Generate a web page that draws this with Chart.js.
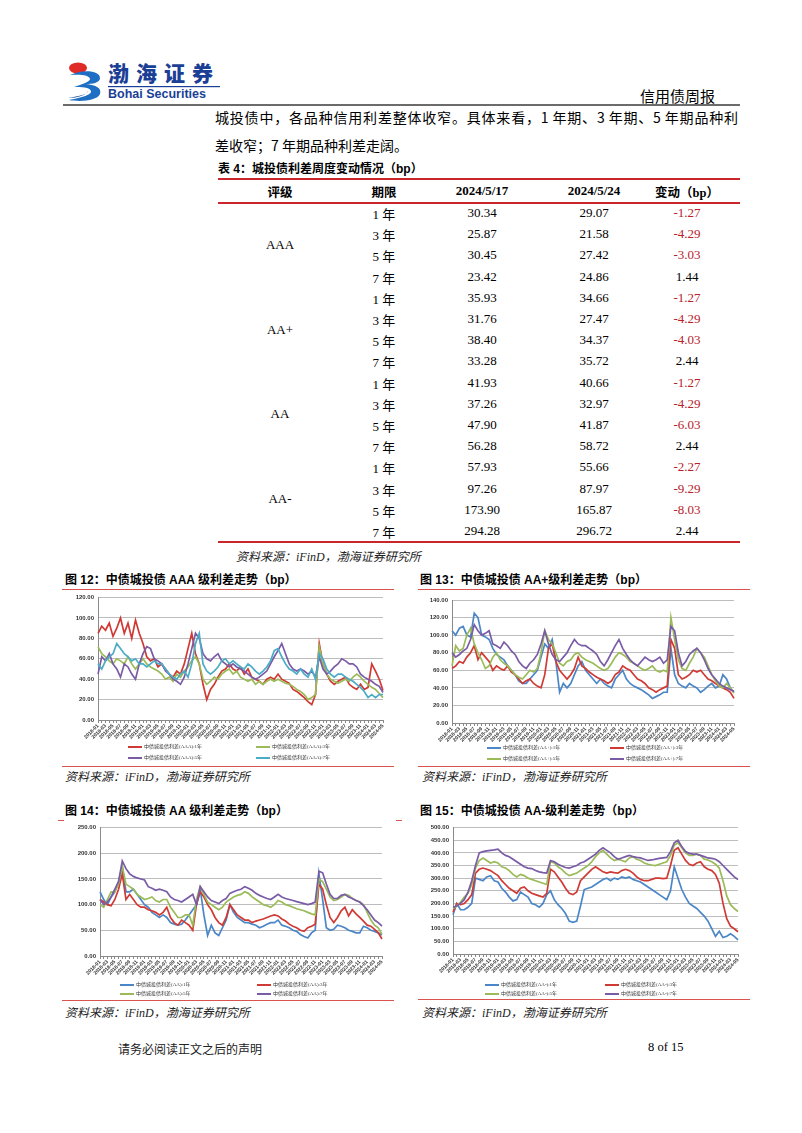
<!DOCTYPE html>
<html>
<head>
<meta charset="utf-8">
<script src="https://cdn.jsdelivr.net/npm/chart.js@4.4.1/dist/chart.umd.min.js"></script>
<style>
  body { margin: 0; width: 802px; height: 1133px; position: relative; background: #fff; overflow: hidden;
         font-family: "Noto Sans CJK SC", sans-serif; color: #000; }
  .abs { position: absolute; white-space: nowrap; }
  .serif { font-family: "Liberation Serif", "Noto Sans CJK SC", serif; }
  .ttl { font-family: "Liberation Sans", "Noto Sans CJK SC", sans-serif; font-weight: bold; font-size: 12px; }
  .src { font-family: "Liberation Serif", "Noto Sans CJK SC", serif; font-style: italic; font-size: 12px; color: #222; }
  .redline { position: absolute; height: 1px; background: #D9534F; }
  canvas { position: absolute; background: #fff; }
  .lg { position: absolute; white-space: nowrap; font-family: "Liberation Serif", "Noto Sans CJK SC", serif; font-size: 5px; color: #333; line-height: 6px; }
  .lg i { display: inline-block; width: 14px; height: 2px; vertical-align: middle; margin-right: 2px; }
  .cell { position: absolute; transform: translate(-50%, -50%); white-space: nowrap; font-size: 13px; }
</style>
</head>
<body>

<!-- 页眉 -->
<svg class="abs" style="left:66px;top:58px" width="160" height="46">
  <ellipse cx="12" cy="10" rx="9" ry="5.5" fill="#E02A26"/>
  <path d="M4 17 C16 11 34 12 34 20 C34 25 26 26 20 26 C30 27 36 30 34 36 C31 43 14 44 3 42 C14 40 26 37 25 33 C24 29 15 29 8 29 C16 26 24 24 24 21 C24 17 14 16 4 17 Z" fill="#1E6FC3"/>
  <path d="M2 40 C14 38 22 36 22 33 C20 37 12 40 2 40 Z" fill="#0B3F8F"/>
  <text x="42" y="23" font-family="Noto Sans CJK SC" font-weight="900" font-size="21" fill="#1B3F96" letter-spacing="7">渤海证券</text>
  <rect x="42" y="28" width="112" height="1.2" fill="#1B3F96"/>
  <text x="42" y="40" font-family="Liberation Sans" font-weight="bold" font-size="12.5" fill="#1B3F96">Bohai Securities</text>
</svg>
<div class="abs" style="left:640px;top:85px;font-size:15px;">信用债周报</div>
<div class="abs" style="left:63px;top:104px;width:677px;height:2px;background:#6b6b6b;"></div>

<div class="abs" style="left:215px;top:107px;width:523px;font-size:14px;line-height:20px;text-align:justify;text-align-last:justify;">城投债中，各品种信用利差整体收窄。具体来看，1 年期、3 年期、5 年期品种利</div>
<div class="abs" style="left:215px;top:135px;font-size:14px;line-height:20px;">差收窄；7 年期品种利差走阔。</div>
<div class="abs ttl" style="left:218px;top:159px;">表 4：城投债利差周度变动情况（bp）</div>

<div id="table"></div>
<div class="abs src" style="left:236px;top:547px;">资料来源：iFinD，渤海证券研究所</div>

<!-- 图表区 -->
<div class="abs ttl" style="left:65px;top:570px;">图 12：中债城投债 AAA 级利差走势（bp）</div>
<div class="abs ttl" style="left:420px;top:570px;">图 13：中债城投债 AA+级利差走势（bp）</div>
<div class="redline" style="left:62px;top:589px;width:332px;"></div>
<div class="redline" style="left:418px;top:589px;width:332px;"></div>
<canvas id="c12" width="332" height="160" style="left:62px;top:590px;"></canvas>
<canvas id="c13" width="332" height="160" style="left:418px;top:590px;"></canvas>
<div class="redline" style="left:62px;top:766px;width:332px;"></div>
<div class="redline" style="left:418px;top:766px;width:332px;"></div>
<div class="abs src" style="left:65px;top:767px;">资料来源：iFinD，渤海证券研究所</div>
<div class="abs src" style="left:422px;top:767px;">资料来源：iFinD，渤海证券研究所</div>

<div class="abs ttl" style="left:65px;top:801px;">图 14：中债城投债 AA 级利差走势（bp）</div>
<div class="abs ttl" style="left:420px;top:801px;">图 15：中债城投债 AA-级利差走势（bp）</div>
<div class="redline" style="left:58px;top:820px;width:344px;"></div>
<canvas id="c14" width="332" height="162" style="left:64px;top:820px;"></canvas>
<canvas id="c15" width="332" height="162" style="left:418px;top:820px;"></canvas>
<div class="redline" style="left:62px;top:1000px;width:332px;"></div>
<div class="redline" style="left:418px;top:999px;width:332px;"></div>
<div class="abs src" style="left:65px;top:1003px;">资料来源：iFinD，渤海证券研究所</div>
<div class="abs src" style="left:422px;top:1003px;">资料来源：iFinD，渤海证券研究所</div>

<div id="legends"></div>

<!-- 页脚 -->
<div class="abs src" style="left:118px;top:1040px;font-style:normal;">请务必阅读正文之后的声明</div>
<div class="abs serif" style="left:648px;top:1040px;font-size:12.5px;">8 of 15</div>

<script>
// 表格数据
const tblRatings = ["AAA", "AA+", "AA", "AA-"];
const tblTerms = ["1 年", "3 年", "5 年", "7 年"];
const tblPrev = ["30.34", "25.87", "30.45", "23.42", "35.93", "31.76", "38.40", "33.28",
                 "41.93", "37.26", "47.90", "56.28", "57.93", "97.26", "173.90", "294.28"];
const tblCurr = ["29.07", "21.58", "27.42", "24.86", "34.66", "27.47", "34.37", "35.72",
                 "40.66", "32.97", "41.87", "58.72", "55.66", "87.97", "165.87", "296.72"];
const tblChg = ["-1.27", "-4.29", "-3.03", "1.44", "-1.27", "-4.29", "-4.03", "2.44",
                "-1.27", "-4.29", "-6.03", "2.44", "-2.27", "-9.29", "-8.03", "2.44"];

// 月度横轴 2018-01 至 2024-05
const months = [];
for (let y = 2018; y <= 2024; y++) {
  for (let m = 1; m <= 12; m++) {
    if (y === 2024 && m > 5) break;
    months.push(y + "-" + String(m).padStart(2, "0"));
  }
}

// AAA
const aaa1 = [85,92,88,95,82,90,100,85,95,80,98,85, 75,62,58,60,52,55,50,45,42,48,45,55,
  70,85,65,55,35,20,30,35,42,48,50,55, 50,48,52,45,50,42,40,38,35,40,42,40,
  45,40,38,36,30,28,25,22,18,15,25,75, 55,45,38,35,38,40,42,35,32,30,35,30, 32,55,48,40,29];
const aaa3 = [72,65,62,58,55,60,58,55,62,55,50,55, 60,55,52,50,48,45,40,42,38,45,42,48,
  52,58,62,55,40,35,38,42,40,45,48,50, 45,48,42,40,38,40,35,38,35,38,40,38,
  40,38,36,35,33,30,28,25,20,22,25,72, 55,45,40,38,36,38,40,38,42,45,42,38, 35,32,30,26,22];
const aaa5 = [45,62,58,65,55,50,42,55,52,45,40,55, 65,72,70,60,58,55,48,45,40,38,35,42,
  55,70,85,80,65,60,58,62,65,58,55,52, 55,52,50,48,45,42,40,42,45,48,55,62,
  68,75,65,55,50,48,50,48,45,48,42,62, 50,45,48,52,55,60,58,55,55,52,45,42, 40,38,35,33,27];
const aaa7 = [55,50,58,62,65,75,70,65,62,58,60,55, 55,52,55,58,55,55,50,45,42,40,45,48,
  42,55,75,85,55,48,45,48,52,58,60,55, 58,55,52,50,55,52,48,45,48,52,58,68,
  70,62,55,50,48,45,50,45,42,50,40,65, 60,50,45,42,45,45,42,40,38,35,32,28, 22,25,22,25,25];

// AA+
const aap1 = [105,100,108,110,100,98,125,120,100,98,95,85, 78,75,72,65,60,55,48,45,45,50,55,60,
  75,90,85,95,70,35,45,40,45,55,65,70, 60,55,50,45,50,45,42,40,50,55,60,50,
  45,42,40,38,35,32,28,30,32,35,35,85, 55,45,42,40,45,42,40,35,38,42,45,40, 42,55,50,40,35];
const aap3 = [62,65,70,68,75,80,88,72,80,75,70,60, 65,62,60,65,58,55,50,45,48,50,45,42,
  40,55,85,90,70,60,55,50,55,62,75,65, 62,58,55,52,50,48,45,48,55,58,65,62,
  60,55,50,48,45,40,38,35,38,40,42,95, 85,55,50,52,55,60,58,60,55,50,48,45, 42,40,38,35,28];
const aap5 = [65,88,82,85,100,108,90,80,72,62,65,75, 80,72,68,65,60,55,52,50,55,60,58,62,
  80,105,95,90,80,68,65,70,72,78,80,75, 72,70,68,65,62,60,62,68,75,80,78,75,
  70,68,65,62,60,62,65,60,58,60,58,120, 95,72,62,60,68,75,85,80,75,65,55,48, 42,40,45,40,34];
const aap7 = [80,75,78,82,85,95,112,105,100,102,105,90, 88,85,92,88,82,78,70,65,62,68,72,78,
  90,105,90,78,72,70,75,80,88,95,90,88, 88,85,82,78,70,65,72,80,88,95,85,78,
  72,68,65,70,75,72,70,72,75,68,72,110, 105,80,65,70,78,82,85,80,72,62,55,50, 45,42,40,38,36];

// AA
const aa1 = [125,110,100,115,125,145,175,125,125,130,120,110, 100,95,85,80,75,80,75,65,62,60,62,70,
  80,90,100,130,80,40,60,45,40,55,70,100, 85,75,70,65,65,62,60,55,58,62,65,65,
  70,60,58,55,50,48,42,38,35,45,50,160, 110,55,50,52,60,58,55,50,48,45,45,58, 55,50,48,45,41];
const aa3 = [110,105,100,98,110,130,160,110,120,110,100,95, 95,90,88,85,80,85,95,75,65,60,70,65,
  60,50,100,125,115,100,90,75,65,60,75,100, 90,80,75,70,70,65,68,70,72,75,78,80,
  78,72,68,62,58,55,50,48,55,58,62,140, 130,100,75,65,75,88,95,78,90,82,75,68, 60,58,52,45,33];
const aa5 = [100,95,110,125,125,140,175,140,135,130,120,115, 110,112,115,108,105,110,110,95,85,75,75,80,
  80,60,110,135,120,105,100,95,90,95,105,110, 115,118,120,125,122,115,110,105,100,98,95,100,
  108,105,100,98,95,92,90,88,85,82,80,150, 145,130,115,108,110,115,120,118,112,108,105,100, 85,70,60,55,42];
const aa7 = [110,100,105,115,130,145,185,170,160,155,152,150, 148,135,132,128,130,128,125,115,110,108,105,110,
  115,120,100,135,125,115,108,105,102,108,112,122, 125,128,130,135,132,128,122,118,115,112,110,115,
  120,115,112,110,108,106,104,102,100,102,105,165, 162,140,120,112,112,118,120,115,112,108,105,98, 90,80,70,65,58];

// AA-
const aam1 = [155,200,175,175,185,200,300,295,290,305,310,290, 285,260,245,225,210,215,245,235,225,200,195,185,
  200,235,250,215,195,180,160,130,125,130,190,255, 260,265,275,285,295,300,290,300,295,305,300,305,
  295,290,285,275,265,255,245,235,225,215,250,345, 300,255,225,200,190,180,165,150,130,100,70,90, 65,70,80,70,56];
const aam3 = [165,200,195,200,215,235,320,335,340,335,330,320, 310,290,275,260,250,240,260,265,250,240,235,230,
  225,240,335,325,305,285,260,240,235,245,290,305, 320,335,345,335,325,320,325,322,320,330,335,330,
  320,305,295,290,290,295,300,300,298,300,350,410, 420,395,370,355,350,360,365,345,335,330,315,280, 200,140,110,100,88];
const aam5 = [180,190,205,225,240,275,340,370,380,370,360,365, 360,345,340,330,315,305,315,310,300,295,290,285,
  280,275,365,360,345,335,320,310,315,320,330,340, 350,365,385,400,410,395,380,370,375,370,365,380,
  385,375,370,360,355,352,350,355,360,365,390,430, 440,420,400,390,390,395,390,375,372,365,355,340, 290,230,195,180,168];
const aam7 = [185,190,200,215,245,290,350,400,405,408,410,412, 415,400,390,385,375,365,355,345,340,338,330,325,
  322,320,370,365,355,348,342,340,345,350,360,365, 375,385,395,410,420,410,400,385,375,380,385,390,
  385,382,380,375,370,372,375,378,380,382,405,440, 450,425,405,398,395,395,390,385,380,378,375,365, 350,335,320,305,295];

const colBlue = "#4A86C8", colRed = "#D03A34", colGreen = "#9BBB59", colPurple = "#7A5BA6", colCyan = "#4BACC6";

// 表格
const tbl = document.getElementById("table");
const colX = { rating: 280, term: 384, prev: 482, curr: 594, chg: 687 };
const rowY0 = 213, rowH = 21.2;
const addCell = (x, y, text, cls, style) => {
  const d = document.createElement("div");
  d.className = "cell " + (cls || "");
  d.style.left = x + "px";
  d.style.top = y + "px";
  if (style) d.style.cssText += style;
  d.textContent = text;
  tbl.appendChild(d);
};
const addLine = (y, h) => {
  const d = document.createElement("div");
  d.className = "abs";
  d.style.cssText = `left:218px;top:${y}px;width:522px;height:${h}px;background:#C9252B;`;
  tbl.appendChild(d);
};
addLine(178, 2);
addLine(202, 1.5);
addLine(541, 2);
const hb = "font-weight:bold;font-size:12.5px;";
addCell(colX.rating, 191, "评级", "", hb);
addCell(colX.term, 191, "期限", "", hb);
addCell(colX.prev, 191, "2024/5/17", "serif", hb + "font-size:13px;");
addCell(colX.curr, 191, "2024/5/24", "serif", hb + "font-size:13px;");
addCell(colX.chg, 191, "变动（bp）", "serif", hb);
tblPrev.forEach((v, i) => {
  const y = rowY0 + i * rowH;
  addCell(colX.term, y, tblTerms[i % 4], "serif");
  addCell(colX.prev, y, v, "serif");
  addCell(colX.curr, y, tblCurr[i], "serif");
  addCell(colX.chg, y, tblChg[i], "serif", tblChg[i].startsWith("-") ? "color:#B8212A;" : "");
});
tblRatings.forEach((r, k) => {
  addCell(colX.rating, rowY0 + (k * 4 + 1.5) * rowH, r, "serif");
});

// 图例
const legends = document.getElementById("legends");
const addLegend = (x, y, color, text) => {
  const d = document.createElement("div");
  d.className = "lg";
  d.style.left = x + "px";
  d.style.top = y + "px";
  d.innerHTML = `<i style="background:${color}"></i>${text}`;
  legends.appendChild(d);
};

const makeChart = (id, tag, series, colors, yMax, yStep, box, lg) => {
  const names = ["1年", "3年", "5年", "7年"].map(t => `中债城投债利差(${tag}):${t}`);
  new Chart(document.getElementById(id).getContext("2d"), {
    type: "line",
    data: {
      labels: months,
      datasets: series.map((d, i) => ({
        label: names[i], data: d, borderColor: colors[i], borderWidth: 1.7,
        pointRadius: 0, tension: 0, fill: false, order: 4 - i
      }))
    },
    options: {
      responsive: false, animation: false, devicePixelRatio: 1,
      layout: { padding: { top: box.padT, right: box.padR, left: 0, bottom: 0 } },
      plugins: { legend: { display: false }, tooltip: { enabled: false } },
      scales: {
        x: {
          grid: { display: true, drawOnChartArea: false, tickLength: 3, color: "#8a8a8a" },
          border: { color: "#8a8a8a" },
          ticks: {
            autoSkip: false, maxRotation: 45, minRotation: 45, padding: 0,
            font: { size: 5, family: "Liberation Sans", weight: "bold" }, color: "#333",
            callback: (v, i) => (i % 2 === 0 ? months[i] : "")
          },
          afterFit: s => { s.height = box.xH; }
        },
        y: {
          min: 0, max: yMax,
          grid: { color: "#BDBDBD", drawTicks: false },
          border: { color: "#8a8a8a" },
          ticks: {
            stepSize: yStep, padding: 4,
            font: { size: 6, family: "Liberation Sans", weight: "bold" }, color: "#333",
            callback: v => v.toFixed(2)
          },
          afterFit: s => { s.width = box.yW; }
        }
      }
    }
  });
  series.forEach((d, i) => {
    const col = i % 2, row = Math.floor(i / 2);
    addLegend(lg.x[col], lg.y[row], colors[i], names[i]);
  });
};

makeChart("c12", "AAA", [aaa1, aaa3, aaa5, aaa7], [colRed, colGreen, colPurple, colCyan], 120, 20,
  { yW: 36, xH: 30, padT: 7, padR: 11 }, { x: [128, 256], y: [744, 755] });
makeChart("c13", "AA+", [aap1, aap3, aap5, aap7], [colBlue, colRed, colGreen, colPurple], 140, 20,
  { yW: 34, xH: 27, padT: 10, padR: 16 }, { x: [487, 610], y: [745, 756] });
makeChart("c14", "AA", [aa1, aa3, aa5, aa7], [colBlue, colRed, colGreen, colPurple], 250, 50,
  { yW: 36, xH: 26, padT: 7, padR: 14 }, { x: [120, 257], y: [982, 991] });
makeChart("c15", "AA-", [aam1, aam3, aam5, aam7], [colBlue, colRed, colGreen, colPurple], 500, 50,
  { yW: 35, xH: 28, padT: 7, padR: 12 }, { x: [485, 605], y: [982, 991] });
</script>
</body>
</html>
